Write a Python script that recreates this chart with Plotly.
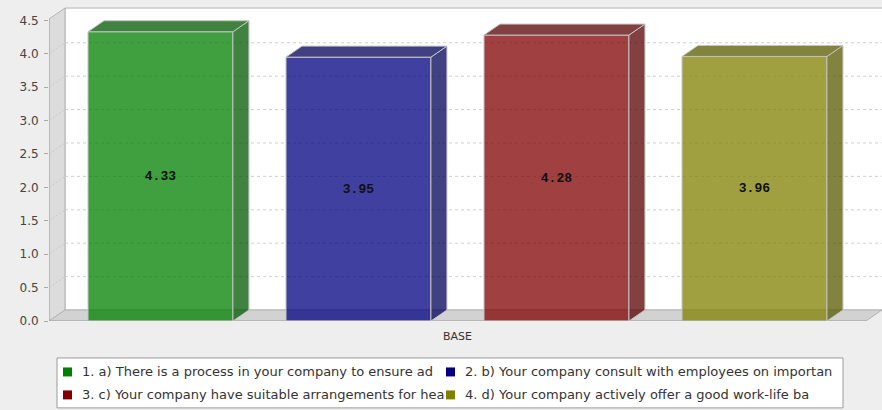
import plotly.graph_objects as go

# ---- data ----
category = "BASE"
series_names = [
    "1. a) There is a process in your company to ensure ad",
    "2. b) Your company consult with employees on importan",
    "3. c) Your company have suitable arrangements for hea",
    "4. d) Your company actively offer a good work-life ba",
]
series_values = [4.33, 3.95, 4.28, 3.96]
series_colors = [(0, 128, 0), (0, 0, 128), (128, 0, 0), (128, 128, 0)]
y_ticks = [0.0, 0.5, 1.0, 1.5, 2.0, 2.5, 3.0, 3.5, 4.0, 4.5]

# ---- layout geometry ----
W, H = 882, 410
PX_PER_Y = 66.89          # pixels per value unit
PX_PER_X = 198.0          # pixels per series slot
DEPTH_X, DEPTH_Y = 16, 11  # 3-D depth offset in pixels
BAR_W = 0.732
X_MIN, X_MAX = -0.563, 3.644
Y_MAX = 4.70
WALL_TOP = 4.52
MARGIN_L, MARGIN_B = 49, 89
PLOT_W = (X_MAX - X_MIN) * PX_PER_X
PLOT_H = Y_MAX * PX_PER_Y
MARGIN_T = H - MARGIN_B - PLOT_H
MARGIN_R = W - MARGIN_L - PLOT_W

dx = DEPTH_X / PX_PER_X
dy = DEPTH_Y / PX_PER_Y
x_front_left = X_MIN
x_front_right = 3 - X_MIN


def rgba(c, a, k=1.0):
    return f"rgba({int(c[0]*k)},{int(c[1]*k)},{int(c[2]*k)},{a})"


def poly(pts):
    return "M " + " L ".join(f"{x},{y}" for x, y in pts) + " Z"


def px_to_paper(px, py):
    return (px - MARGIN_L) / PLOT_W, (H - MARGIN_B - py) / PLOT_H


shapes = []
annotations = []
wall_line = dict(color="#b4b4b4", width=1)

# back wall
shapes.append(dict(type="rect", xref="x", yref="y", layer="below",
                   x0=x_front_left + dx, x1=X_MAX + 0.05, y0=dy, y1=WALL_TOP + dy,
                   fillcolor="white", line=wall_line))
# left wall
shapes.append(dict(type="path", xref="x", yref="y", layer="below",
                   path=poly([(x_front_left, 0), (x_front_left + dx, dy),
                              (x_front_left + dx, WALL_TOP + dy), (x_front_left, WALL_TOP)]),
                   fillcolor="#dcdcdc", line=wall_line))
# floor
shapes.append(dict(type="path", xref="x", yref="y", layer="below",
                   path=poly([(x_front_left, 0), (x_front_right, 0),
                              (x_front_right + dx, dy), (x_front_left + dx, dy)]),
                   fillcolor="#d2d2d2", line=wall_line))

# grid lines on the back wall and the left wall
for t in y_ticks[1:-1]:
    shapes.append(dict(type="line", xref="x", yref="y", layer="below",
                       x0=x_front_left + dx, x1=X_MAX + 0.05, y0=t + dy, y1=t + dy,
                       line=dict(color="#cfcfcf", width=1, dash="3px,3px")))
    shapes.append(dict(type="line", xref="x", yref="y", layer="below",
                       x0=x_front_left, x1=x_front_left + dx, y0=t, y1=t + dy,
                       line=dict(color="#c8c8c8", width=1, dash="2px,2px")))

# value axis line on the front edge of the left wall
shapes.append(dict(type="line", xref="x", yref="y", layer="above",
                   x0=x_front_left, x1=x_front_left, y0=0, y1=WALL_TOP,
                   line=dict(color="#a8a8a8", width=1)))
# category axis line along the front of the floor
shapes.append(dict(type="line", xref="x", yref="y", layer="above",
                   x0=x_front_left, x1=x_front_right, y0=0, y1=0,
                   line=dict(color="#a8a8a8", width=1)))

# side and top faces of each bar
edge = dict(color="#c4c4c4", width=1)
for i, (v, c) in enumerate(zip(series_values, series_colors)):
    xl, xr = i - BAR_W / 2, i + BAR_W / 2
    shade = rgba(c, 0.75, 0.7)
    shapes.append(dict(type="path", xref="x", yref="y", layer="above",
                       path=poly([(xr, 0), (xr + dx, dy), (xr + dx, v + dy), (xr, v)]),
                       fillcolor=shade, line=edge))
    shapes.append(dict(type="path", xref="x", yref="y", layer="above",
                       path=poly([(xl, v), (xl + dx, v + dy), (xr + dx, v + dy), (xr, v)]),
                       fillcolor=shade, line=edge))

# legend box below the chart: two columns, two rows
LEG_L, LEG_R, LEG_T, LEG_B = 57, 843, 358, 408
bx0, by0 = px_to_paper(LEG_L, LEG_B)
bx1, by1 = px_to_paper(LEG_R, LEG_T)
shapes.append(dict(type="rect", xref="paper", yref="paper", layer="above",
                   x0=bx0, x1=bx1, y0=by0, y1=by1,
                   fillcolor="white", line=dict(color="#9a9a9a", width=1)))
col_x = [63, 446]
row_y = [372, 395]
SW = 9
for k, (name, c) in enumerate(zip(series_names, series_colors)):
    cx, cy = col_x[k % 2], row_y[k // 2]
    sx0, sy0 = px_to_paper(cx, cy + SW / 2)
    sx1, sy1 = px_to_paper(cx + SW, cy - SW / 2)
    shapes.append(dict(type="rect", xref="paper", yref="paper", layer="above",
                       x0=sx0, x1=sx1, y0=sy0, y1=sy1,
                       fillcolor=rgba(c, 1), line=dict(width=0)))
    tx, ty = px_to_paper(cx + SW + 8, cy)
    annotations.append(dict(xref="paper", yref="paper", x=tx, y=ty,
                            xanchor="left", yanchor="middle", showarrow=False,
                            text=name,
                            font=dict(family="DejaVu Sans", size=13, color="#333333")))

fig = go.Figure()

# front faces of the bars
for i, (name, v, c) in enumerate(zip(series_names, series_values, series_colors)):
    fig.add_trace(go.Bar(
        x=[i], y=[v], width=BAR_W, name=name, showlegend=False,
        marker=dict(color=rgba(c, 0.75), line=dict(color="#c4c4c4", width=1)),
        text=[f"{v:.2f}"], textposition="inside", insidetextanchor="middle",
        textangle=0, constraintext="none",
        textfont=dict(family="Liberation Mono", size=13, color="#111111", weight="bold"),
        hoverinfo="skip",
    ))

fig.update_layout(
    width=W, height=H,
    margin=dict(l=MARGIN_L, r=MARGIN_R, t=MARGIN_T, b=MARGIN_B, pad=0),
    paper_bgcolor="#eeeeee", plot_bgcolor="#eeeeee",
    shapes=shapes,
    annotations=annotations,
    barmode="overlay",
    showlegend=False,
    xaxis=dict(
        range=[X_MIN, X_MAX], showgrid=False, zeroline=False, showline=False,
        tickvals=[1.5], ticktext=[category], ticks="",
        ticklabelstandoff=7,
        tickfont=dict(family="DejaVu Sans", size=11, color="#333333"),
        fixedrange=True,
    ),
    yaxis=dict(
        range=[0, Y_MAX], showgrid=False, zeroline=False, showline=False,
        tickvals=y_ticks, ticktext=[f"{t:.1f}" for t in y_ticks],
        ticks="outside", ticklen=4, tickcolor="#a8a8a8",
        ticklabelstandoff=3,
        tickfont=dict(family="DejaVu Sans", size=12, color="#444444"),
        fixedrange=True,
    ),
)

fig.write_html("out.html")
